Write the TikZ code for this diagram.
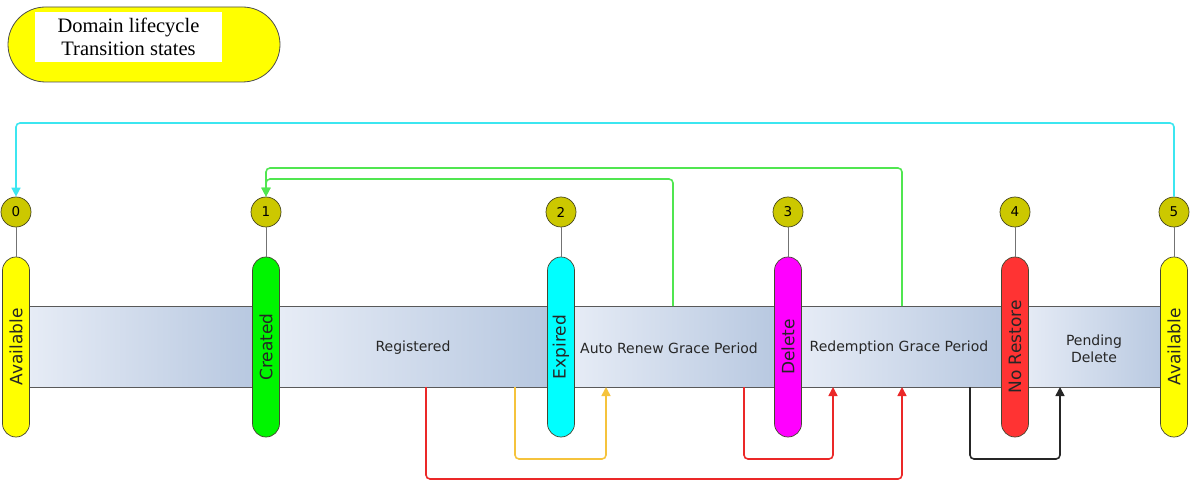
\documentclass[tikz,border=0pt]{standalone}
\usepackage{fontspec}
\setmainfont{DejaVu Sans}
\newfontfamily\serifttl{Liberation Serif}
\usetikzlibrary{arrows.meta}
\definecolor{olivec}{RGB}{204,200,0}
\definecolor{bandlight}{RGB}{233,238,247}
\definecolor{banddark}{RGB}{181,198,223}
\definecolor{pillyellow}{RGB}{255,255,0}
\definecolor{pillgreen}{RGB}{0,245,0}
\definecolor{pillcyan}{RGB}{0,255,255}
\definecolor{pillmagenta}{RGB}{255,0,255}
\definecolor{pillred}{RGB}{255,51,51}
\definecolor{cyanline}{RGB}{60,230,240}
\definecolor{greenline}{RGB}{80,230,80}
\definecolor{goldline}{RGB}{245,195,60}
\definecolor{redline}{RGB}{235,40,40}
\tikzset{
  pill/.style={draw={rgb,255:red,70;green,70;blue,50}, line width=0.7pt, rounded corners=13.5pt,
    minimum width=27pt, minimum height=180pt, inner sep=0pt},
  pilltext/.style={rotate=90, font=\fontsize{17}{19}\selectfont, text=black!85},
  numcirc/.style={circle, draw={rgb,255:red,70;green,70;blue,30}, line width=0.7pt, fill=olivec,
    minimum size=30pt, inner sep=0pt, font=\fontsize{13.5}{15}\selectfont},
  stem/.style={draw=black!55, line width=1pt},
  seg/.style={left color=bandlight, right color=banddark, draw=none},
  bandedge/.style={draw=black!65, line width=0.9pt},
  bandlabel/.style={font=\fontsize{14}{17}\selectfont, text=black!85, align=center},
  conn/.style={line width=1.6pt, rounded corners=4pt},
  tip/.style={-{Triangle[length=9pt,width=9pt]}},
}
\begin{document}
\begin{tikzpicture}[x=1pt,y=-1pt]
\useasboundingbox (0,0) rectangle (1192,481);
% title
\node[draw=black!70, line width=0.8pt, fill=pillyellow, rounded corners=37.5pt,
  minimum width=272pt, minimum height=75pt] (title) at (144,44.5) {};
\node[fill=white, minimum width=187pt, minimum height=50pt, align=center,
  font=\serifttl\fontsize{20.5}{23}\selectfont] (titletext) at (128.5,37)
  {Domain lifecycle\\Transition states};
% band segments
\fill[seg] (16,306) rectangle (266,387);
\fill[seg] (266,306) rectangle (560,387);
\fill[seg] (560,306) rectangle (788,387);
\fill[seg] (788,306) rectangle (1015,387);
\fill[seg] (1015,306) rectangle (1174,387);
\draw[bandedge] (16,306) -- (1174,306);
\draw[bandedge] (16,387) -- (1174,387);
% band labels
\node[bandlabel] (reg) at (413,348) {Registered};
\node[bandlabel] (arg) at (669,348) {Auto Renew Grace Period};
\node[bandlabel] (rgp) at (899,348) {Redemption Grace Period};
\node[bandlabel] (pd) at (1094,349) {Pending\\Delete};
% circles
\node[numcirc] (c0) at (16,212) {0};
\node[numcirc] (c1) at (266,212) {1};
\node[numcirc] (c2) at (561,212) {2};
\node[numcirc] (c3) at (788,212) {3};
\node[numcirc] (c4) at (1015,212) {4};
\node[numcirc] (c5) at (1174,212) {5};
% pills
\node[pill, fill=pillyellow] (p0) at (16,347) {};
\node[pill, fill=pillgreen] (p1) at (266,347) {};
\node[pill, fill=pillcyan] (p2) at (561,347) {};
\node[pill, fill=pillmagenta] (p3) at (788,347) {};
\node[pill, fill=pillred] (p4) at (1015,347) {};
\node[pill, fill=pillyellow] (p5) at (1174,347) {};
\node[pilltext] (t0) at (p0) {Available};
\node[pilltext] (t1) at (p1) {Created};
\node[pilltext] (t2) at (p2) {Expired};
\node[pilltext] (t3) at (p3) {Delete};
\node[pilltext] (t4) at (p4) {No Restore};
\node[pilltext] (t5) at (p5) {Available};
% stems
\foreach \i in {0,...,5} { \draw[stem] (c\i.south) -- (p\i.north); }
% band attachment points
\coordinate (gA) at (673,306);
\coordinate (gB) at (902,306);
\coordinate (yA) at (515,387);
\coordinate (yB) at (606,387);
\coordinate (rA) at (744,387);
\coordinate (rB) at (833,387);
\coordinate (RA) at (426,387);
\coordinate (RB) at (902,387);
\coordinate (kA) at (970,387);
\coordinate (kB) at (1060,387);
% top connectors
\draw[conn, tip, draw=cyanline] (c5.north) |- (600,123) -| (c0.north);
\draw[conn, tip, draw=greenline] (gB) |- (500,168) -| (c1.north);
\draw[conn, tip, draw=greenline] (gA) |- (500,179) -| (c1.north);
% bottom connectors
\draw[conn, tip, draw=goldline] (yA) |- (560,459) -| (yB);
\draw[conn, tip, draw=redline] (rA) |- (790,459) -| (rB);
\draw[conn, tip, draw=redline] (RA) |- (660,479) -| (RB);
\draw[conn, tip, draw=black!85] (kA) |- (1015,459) -| (kB);
\end{tikzpicture}
\end{document}
